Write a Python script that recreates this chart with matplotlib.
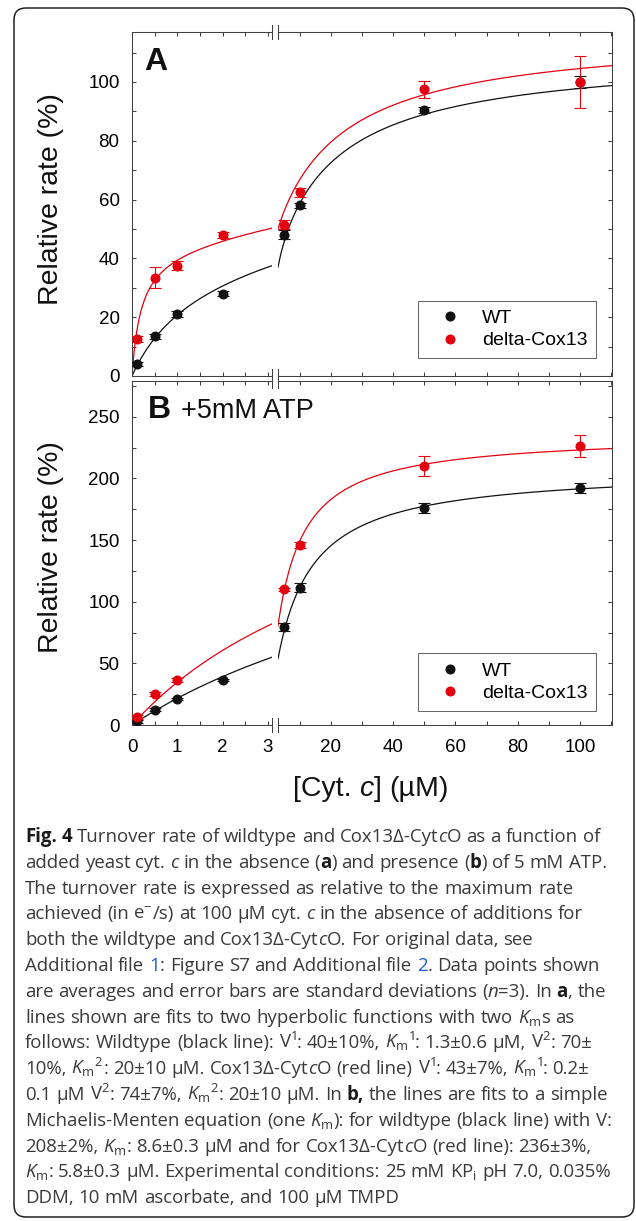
import re
import numpy as np
import matplotlib
matplotlib.use("Agg")
import matplotlib.pyplot as plt
from matplotlib.lines import Line2D
from matplotlib.patches import FancyBboxPatch
from matplotlib.transforms import IdentityTransform

plt.rcParams['font.family'] = ['Liberation Sans', 'DejaVu Sans']
plt.rcParams['mathtext.fontset'] = 'custom'
plt.rcParams['mathtext.rm'] = 'Open Sans'
plt.rcParams['mathtext.it'] = 'Open Sans:italic'
plt.rcParams['mathtext.bf'] = 'Open Sans:bold'

# ---------------- data ----------------
conc_wt = [0.1, 0.5, 1, 2, 5, 10, 50, 100]
conc_red_a = [0.1, 0.5, 1, 2, 5, 10, 50, 100]
conc_red_b = [0.1, 0.5, 1, 5, 10, 50, 100]

rate_a_wt = [4, 13.5, 21, 28, 48, 58, 90.5, 100]
err_a_wt = [0.6, 0.8, 1.0, 0.8, 1.5, 1.0, 1.0, 2.0]
rate_a_red = [12.5, 33.5, 37.5, 48, 51.5, 62.5, 97.5, 100]
err_a_red = [1.0, 3.5, 1.5, 1.0, 1.5, 1.5, 3.0, 9.0]

rate_b_wt = [3, 12.5, 21, 36.5, 79.5, 111.5, 176, 192.5]
err_b_wt = [1, 1, 1, 1, 3, 4, 4, 4]
rate_b_red = [6.5, 25, 36.5, 110, 146, 210, 226]
err_b_red = [1.5, 1.5, 1.5, 1.5, 2.5, 8, 9]

# fit parameters from the caption
fit_a_wt = [40, 1.3, 70, 20]     # V1, Km1, V2, Km2
fit_a_red = [43, 0.2, 74, 20]
fit_b_wt = [208, 8.6]            # V, Km
fit_b_red = [236, 5.8]

series_labels = ["WT", "delta-Cox13"]
xticks_left = [0, 1, 2, 3]
xticks_right = [20, 40, 60, 80, 100]
yticks_a = [0, 20, 40, 60, 80, 100]
yticks_b = [0, 50, 100, 150, 200, 250]

KM = "$K_{\\mathrm{m}}$"
KM1 = "$K_{\\mathrm{m}}{}^{1}$"
KM2 = "$K_{\\mathrm{m}}{}^{2}$"
V1 = "$\\mathrm{V}^{1}$"
V2 = "$\\mathrm{V}^{2}$"
caption_lines = [
    "**Fig. 4** Turnover rate of wildtype and Cox13Δ-Cyt*c*O as a function of",
    "added yeast cyt. *c* in the absence (**a**) and presence (**b**) of 5 mM ATP.",
    "The turnover rate is expressed as relative to the maximum rate",
    "achieved (in $\\mathrm{e}^{-}$/s) at 100 µM cyt. *c* in the absence of additions for",
    "both the wildtype and Cox13Δ-Cyt*c*O. For original data, see",
    "Additional file @1@: Figure S7 and Additional file @2@. Data points shown",
    "are averages and error bars are standard deviations (*n*=3). In **a**, the",
    f"lines shown are fits to two hyperbolic functions with two {KM}s as",
    f"follows: Wildtype (black line): {V1}: 40±10%, {KM1}: 1.3±0.6 µM, {V2}: 70±",
    f"10%, {KM2}: 20±10 µM. Cox13Δ-Cyt*c*O (red line) {V1}: 43±7%, {KM1}: 0.2±",
    f"0.1 µM {V2}: 74±7%, {KM2}: 20±10 µM. In **b,** the lines are fits to a simple",
    f"Michaelis-Menten equation (one {KM}): for wildtype (black line) with V:",
    f"208±2%, {KM}: 8.6±0.3 µM and for Cox13Δ-Cyt*c*O (red line): 236±3%,",
    f"{KM}: 5.8±0.3 µM. Experimental conditions: 25 mM K$\\mathrm{{P}}_{{\\mathrm{{i}}}}$ pH 7.0, 0.035%",
    "DDM, 10 mM ascorbate, and 100 µM TMPD",
]

# ---------------- style ----------------
W, H = 636, 1221
BLACK = '#111111'
RED = '#e3000f'
SPINE = '#404040'
LW = 0.75

fig = plt.figure(figsize=(W / 100, H / 100), dpi=100)
renderer = fig.canvas.get_renderer()


def two_hyp(x, v1, k1, v2, k2):
    return v1 * x / (k1 + x) + v2 * x / (k2 + x)


def mm(x, v, k):
    return v * x / (k + x)


def style_axes(ax, side):
    for s in ax.spines.values():
        s.set_color(SPINE)
        s.set_linewidth(LW)
    if side == 'left':
        ax.spines['right'].set_visible(False)
        ax.tick_params(which='both', direction='in', top=True, right=False,
                       left=True, length=3.2, width=LW, color=SPINE,
                       labelsize=13.5, pad=9)
    else:
        ax.spines['left'].set_visible(False)
        ax.tick_params(which='both', direction='in', top=True, right=True,
                       left=False, labelleft=False, length=3.2, width=LW,
                       color=SPINE, labelsize=13.5, pad=9)
    ax.tick_params(axis='x', pad=10)


def break_marks(ax, xpos):
    d = 7 / 344
    for ypos in (0, 1):
        ax.plot([xpos, xpos], [ypos - d, ypos + d], transform=ax.transAxes,
                color=SPINE, lw=LW, clip_on=False, zorder=5)


def make_panel(top_px, ylim, yticks, yminor, fits, fitfun, data, show_xlabels):
    bottom = 1 - (top_px + 344) / H
    axl = fig.add_axes([132 / W, bottom, 140 / W, 344 / H])
    axr = fig.add_axes([278 / W, bottom, 334 / W, 344 / H])
    axl.set_xlim(0, 3.09)
    axr.set_xlim(3.0, 110.3)
    for ax, side in ((axl, 'left'), (axr, 'right')):
        ax.set_ylim(*ylim)
        ax.set_yticks(yticks)
        ax.set_yticks(np.arange(0, ylim[1], yminor), minor=True)
        style_axes(ax, side)
        x0, x1 = ax.get_xlim()
        xs = np.linspace(max(x0, 0), x1, 400)
        for params, col in zip(fits, (BLACK, RED)):
            ax.plot(xs, fitfun(xs, *params), color=col, lw=0.9, zorder=2)
        for (cx, cy, ce), col in zip(data, (BLACK, RED)):
            cx, cy, ce = np.asarray(cx), np.asarray(cy), np.asarray(ce)
            m = (cx >= x0) & (cx <= x1)
            ax.errorbar(cx[m], cy[m], yerr=ce[m], fmt='o', color=col, ms=6.2,
                        capsize=4, elinewidth=0.8, capthick=0.8, zorder=3)
    axl.set_xticks(xticks_left)
    axl.set_xticks(np.arange(0, 3.1, 0.5), minor=True)
    axr.set_xticks(xticks_right)
    axr.set_xticks(np.arange(10, 111, 10), minor=True)
    if not show_xlabels:
        axl.tick_params(labelbottom=False)
        axr.tick_params(labelbottom=False)
    break_marks(axl, 1)
    break_marks(axr, 0)
    handles = [Line2D([], [], marker='o', ls='', color=c, ms=6.2) for c in (BLACK, RED)]
    return axl, axr, handles


axl_a, axr_a, h = make_panel(
    32, (0, 117), yticks_a, 10, (fit_a_wt, fit_a_red), two_hyp,
    [(conc_wt, rate_a_wt, err_a_wt), (conc_red_a, rate_a_red, err_a_red)], False)
leg = axr_a.legend(h, series_labels, loc='lower right', bbox_to_anchor=(0.952, 0.052),
                   borderaxespad=0, fontsize=14, frameon=True, fancybox=False,
                   edgecolor=SPINE, handlelength=2.4, handletextpad=0.45,
                   borderpad=0.45, labelspacing=0.25)
leg.get_frame().set_linewidth(LW)

axl_b, axr_b, h = make_panel(
    381, (0, 279), yticks_b, 25, (fit_b_wt, fit_b_red), mm,
    [(conc_wt, rate_b_wt, err_b_wt), (conc_red_b, rate_b_red, err_b_red)], True)
leg = axr_b.legend(h, series_labels, loc='lower right', bbox_to_anchor=(0.952, 0.041),
                   borderaxespad=0, fontsize=14, frameon=True, fancybox=False,
                   edgecolor=SPINE, handlelength=2.4, handletextpad=0.45,
                   borderpad=0.45, labelspacing=0.25)
leg.get_frame().set_linewidth(LW)

# panel texts
fig.text(144 / W, 1 - 70 / H, "A", fontsize=23, fontweight='bold', va='baseline', color=BLACK)
fig.text(148 / W, 1 - 418 / H, "B", fontsize=23, fontweight='bold', va='baseline', color=BLACK)
fig.text(181 / W, 1 - 418 / H, "+5mM ATP", fontsize=19.5, va='baseline', color=BLACK)
fig.text(51 / W, 1 - 199 / H, "Relative rate (%)", fontsize=20.5, rotation=90,
         ha='center', va='center', color=BLACK)
fig.text(51 / W, 1 - 547 / H, "Relative rate (%)", fontsize=20.5, rotation=90,
         ha='center', va='center', color=BLACK)


# ---------------- rich text helper ----------------
def measure(s, **kw):
    t = fig.text(0, 0, s, **kw)
    w = t.get_window_extent(renderer).width
    t.remove()
    return w


TOKEN = re.compile(r'(\*\*.+?\*\*|\*.+?\*|@.+?@|\$.+?\$)')


def parse(line):
    segs = []
    for part in TOKEN.split(line):
        if not part:
            continue
        if part.startswith('**'):
            segs.append((part[2:-2], 'bold'))
        elif part.startswith('*'):
            segs.append((part[1:-1], 'italic'))
        elif part.startswith('@'):
            segs.append((part[1:-1], 'blue'))
        elif part.startswith('$'):
            segs.append((part, 'math'))
        else:
            segs.append((part, 'normal'))
    return segs


def seg_props(style, family, size, color, bold_color, blue):
    kw = dict(fontsize=size, family=family, color=color)
    if style == 'bold':
        kw.update(fontweight='bold', color=bold_color)
    elif style == 'italic':
        kw.update(fontstyle='italic')
    elif style == 'blue':
        kw.update(color=blue)
    return kw


def rich_line(line, x_px, y_px, family, size, color, bold_color=None,
              blue='#1f5fd6', center=False):
    bold_color = bold_color or color
    items = []
    x = 0.0
    for text, style in parse(line):
        kw = seg_props(style, family, size, color, bold_color, blue)
        if style == 'math':
            w = measure(text, **kw)
            items.append((x, text, kw))
            x += w
            continue
        sp = measure("a a", **kw) - measure("aa", **kw)
        for i, word in enumerate(text.split(' ')):
            if i > 0:
                x += sp
            if word:
                w = measure(word, **kw)
                items.append((x, word, kw))
                x += w
    total = x
    start = x_px - total / 2 if center else x_px
    for dx, s, kw in items:
        fig.text((start + dx) / W, 1 - y_px / H, s, va='baseline', **kw)
    return total


# x axis label
rich_line("[Cyt. *c*] (µM)", 371, 796, ['Liberation Sans', 'DejaVu Sans'], 20.5,
          BLACK, center=True)

# caption
cap_family = ['Open Sans', 'DejaVu Sans']
base0, step = 842, 25.8
for i, line in enumerate(caption_lines):
    rich_line(line, 25, base0 + i * step, cap_family, 13.4, '#3a3a3a',
              bold_color='#1a1a1a')

# rounded outer frame
frame = FancyBboxPatch((14, 4), 620, 1209, boxstyle="round,pad=0,rounding_size=12",
                       transform=IdentityTransform(), fill=False,
                       edgecolor='#222222', lw=1.1)
fig.patches.append(frame)

fig.savefig("out.png", dpi=100)
